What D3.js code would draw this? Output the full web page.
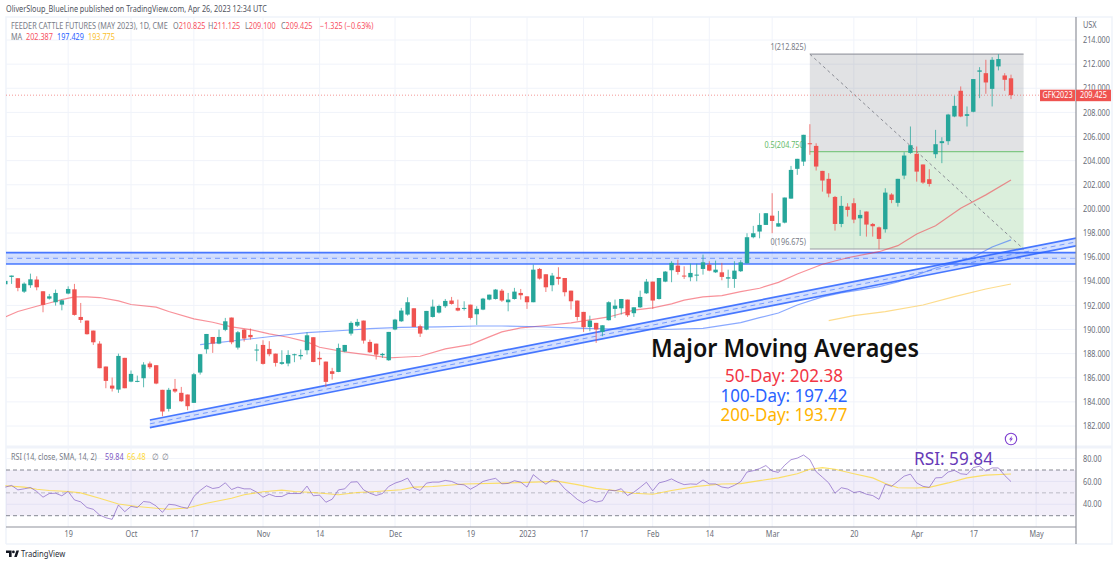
<!DOCTYPE html>
<html>
<head>
<meta charset="utf-8">
<script src="https://cdn.jsdelivr.net/npm/d3@7"></script>
<style>
  html, body { margin: 0; padding: 0; background: #fff; }
  text { font-family: "Noto Sans", sans-serif; }
</style>
</head>
<body>
<svg id="chart" width="1120" height="566"></svg>
<script>
// candles, one per trading day, Sep 2 2022 -> Apr 25 2023
const opens = [193.75,194.36,194.25,193.14,193.67,194.14,193.17,192.56,192.26,192.06,192.98,193.33,191.04,190.74,189.91,188.83,186.93,185.35,185.02,187.65,185.68,185.68,185.96,187.18,187.04,185.0,183.42,185.08,184.75,184.61,183.92,186.43,188.36,189.38,188.83,189.97,190.99,188.5,189.99,189.55,188.28,188.72,188.39,188.0,187.15,187.18,187.87,187.78,188.28,189.36,187.65,187.34,186.54,186.48,188.17,189.66,190.32,190.74,188.97,188.83,187.87,187.45,190.0,190.68,191.24,191.76,190.27,189.99,191.04,191.4,191.93,192.4,191.79,191.71,192.06,191.26,191.65,192.48,192.53,193.22,192.26,192.53,193.03,192.75,192.26,195.02,194.58,193.67,194.36,194.27,193.22,192.4,191.46,190.21,190.55,189.8,190.77,191.71,191.76,192.48,191.35,191.84,193.0,193.97,192.53,193.97,194.91,195.3,194.47,194.33,194.47,195.02,195.38,194.74,194.74,194.22,194.19,194.83,195.49,197.65,198.12,198.67,199.44,198.53,198.86,200.85,203.32,203.92,205.44,205.22,203.15,202.49,200.99,198.75,200.19,200.47,199.22,199.78,198.75,198.47,198.31,201.19,200.5,202.76,204.64,204.56,203.68,202.46,204.53,205.45,205.61,207.66,209.79,207.71,208.05,211.37,211.25,209.95,211.81,211.06,210.825];
const highs = [194.03,194.47,194.25,193.91,194.63,194.41,193.17,192.95,193.31,192.48,193.58,193.78,192.2,190.74,189.91,189.03,186.93,186.02,188.0,187.65,186.6,186.18,187.29,187.34,187.04,185.0,185.16,185.9,185.24,184.61,186.4,187.95,189.63,189.38,189.99,190.96,190.99,189.88,190.05,190.08,188.78,189.11,189.03,188.0,188.28,188.28,188.0,188.34,189.77,189.36,188.17,187.34,186.82,188.83,188.72,190.68,190.88,190.74,189.16,188.83,188.06,189.8,190.88,191.79,192.67,191.76,190.41,191.54,192.48,192.06,192.53,192.7,192.48,192.34,192.06,191.93,192.62,192.89,193.36,193.36,193.03,193.45,193.36,192.75,195.38,195.1,194.58,194.69,195.16,194.27,193.22,192.4,191.46,191.15,190.55,190.35,192.34,192.48,192.53,192.48,191.84,193.22,194.19,193.97,194.27,194.85,195.66,195.79,195.24,195.46,195.46,196.21,195.66,195.71,195.52,194.96,195.66,195.74,197.98,198.59,199.64,199.64,201.3,199.83,200.94,203.56,204.15,206.14,207.02,205.44,203.15,202.96,201.07,201.07,200.47,200.88,199.91,199.78,198.83,198.53,201.71,201.3,202.49,204.7,206.83,205.17,203.68,203.29,206.55,205.94,207.88,209.37,210.15,208.49,210.76,211.75,212.36,212.58,212.825,211.25,211.125];
const lows = [193.75,193.78,193.17,193.03,193.45,193.25,191.43,192.48,191.98,191.59,192.92,191.15,190.55,189.58,188.72,186.79,185.13,184.86,184.75,185.13,185.63,185.63,185.21,186.73,185.46,182.81,183.2,184.75,184.0,183.31,183.92,186.26,188.0,188.06,188.78,189.86,188.78,188.34,189.0,189.16,187.37,187.09,187.78,186.93,187.07,186.95,187.29,187.51,187.92,187.29,187.04,185.24,185.85,186.46,188.12,189.5,190.21,188.83,188.06,187.51,187.65,187.4,189.94,190.63,191.15,190.21,189.38,189.94,190.99,191.32,191.79,192.06,191.51,191.57,190.82,190.38,191.6,192.42,192.48,192.29,191.51,192.48,192.48,191.71,192.26,194.14,193.11,193.17,193.72,192.75,191.65,190.74,189.8,189.86,188.89,189.44,190.74,190.96,191.24,191.04,191.04,191.79,192.95,191.71,192.48,193.92,193.92,194.55,194.19,194.0,194.0,194.55,194.83,194.69,194.08,193.45,193.45,194.77,195.49,197.56,197.56,198.67,197.98,198.53,198.8,200.85,202.82,203.56,204.48,203.18,201.43,200.96,198.2,198.48,199.36,198.81,197.76,197.7,197.7,196.65,198.03,200.47,200.19,202.46,204.56,202.26,202.07,201.85,204.2,203.79,205.31,207.6,207.6,206.83,208.0,209.18,209.54,208.49,211.48,209.79,209.1];
const closes = [194.03,194.47,193.45,193.8,194.16,193.5,192.04,192.75,193.03,192.42,193.36,191.21,190.79,189.61,188.94,186.79,185.74,185.1,187.81,185.13,186.32,185.74,187.09,186.87,185.52,183.2,185.0,184.86,184.05,183.64,186.29,187.95,189.63,188.83,189.38,190.68,188.94,189.77,189.25,189.36,188.34,187.15,187.95,187.23,187.29,187.89,187.95,187.89,189.52,187.31,187.53,185.66,186.32,188.47,188.72,190.55,190.63,189.08,188.11,187.92,187.98,189.8,190.82,191.57,192.26,190.21,189.66,191.54,191.9,191.95,192.37,192.12,191.57,191.79,190.96,191.71,192.56,192.89,193.31,192.4,192.48,193.14,192.84,192.26,194.96,194.22,193.5,194.47,194.19,193.09,192.34,191.04,190.19,190.74,190.0,190.35,192.26,191.98,192.53,191.18,191.84,192.7,193.97,192.4,194.27,194.8,195.52,194.77,194.41,194.69,194.55,195.57,194.88,194.96,194.36,194.33,194.88,195.57,197.65,197.98,198.67,199.64,199.0,198.81,200.94,203.23,204.15,206.14,205.39,203.51,202.35,201.27,198.75,200.25,199.91,199.11,199.5,198.7,198.56,197.51,201.35,200.74,202.49,204.42,205.28,203.09,202.18,202.07,205.36,205.61,207.82,208.54,207.66,207.85,210.76,211.48,210.48,212.36,212.42,210.7,209.425];

// moving averages as [day index, price]
const ma50 = [[0,191.04],[2,191.49],[5,191.93],[7,192.2],[9,192.48],[11,192.7],[13,192.7],[15,192.65],[18,192.37],[20,192.07],[24,191.85],[26,191.49],[30,190.88],[33,190.6],[36,190.22],[39,189.99],[42,189.64],[45,189.36],[48,188.97],[50,188.53],[54,188.14],[58,187.87],[61,187.65],[63,187.7],[66,187.78],[70,188.39],[74,188.75],[77,189.39],[79,189.8],[82,190.13],[86,190.33],[90,190.55],[94,190.88],[96,191.04],[100,191.6],[103,191.79],[106,192.12],[108,192.43],[111,192.7],[114,192.81],[117,193.14],[120,193.42],[123,193.91],[126,194.6],[130,195.41],[134,195.95],[139,196.45],[142,196.95],[145,197.92],[148,198.6],[152,200.05],[156,201.16],[160,202.387]];
const ma100 = [[31,188.74],[43,189.46],[48,189.74],[55,189.96],[58,190.07],[63,190.18],[69,190.21],[75,190.29],[79,190.29],[85,190.23],[92,190.1],[100,190.02],[106,190.02],[111,190.1],[117,190.57],[120,190.98],[123,191.37],[126,192.03],[130,192.7],[133,193.03],[136,193.28],[139,193.55],[142,193.94],[145,194.52],[148,195.1],[151,195.52],[154,196.01],[157,196.84],[160,197.429]];
const ma200 = [[131,190.73],[135,191.15],[140,191.48],[146,192.03],[151,192.72],[156,193.36],[160,193.775]];

// RSI, one value per day
const rsiValues = [55,56.5,52.6,53.5,54.7,51.2,46.2,49.4,49.7,47.4,51.2,43.8,42.1,37.1,35.6,30.6,28.2,26.8,39.4,33.5,38.2,37.1,42.4,41.8,38.5,32.9,40,39.4,37.6,36.5,46.8,52.1,56.2,53.8,54.7,58.8,52.9,55,53.5,53.5,50.6,46.2,48.8,46.8,46.8,49.4,49.4,49.4,55.9,47.4,48,41.8,44.4,52.6,53.5,59.4,59.7,52.6,49.7,47.7,49.4,55.6,58.5,60.3,62.9,54.1,52.1,58.5,59.4,59.4,60.9,60,57.6,57,53.2,56.2,60,61.5,62.7,57.9,58.2,60.6,59.4,55,65.9,61.5,57.6,61.5,60,53.6,49.1,44.3,41,44,41.9,43.1,52.4,51.8,53.6,47.6,50.6,54.8,59.3,51.8,58.7,60.1,62.2,59.3,57.2,57.8,57.5,61.3,57.8,57.8,55.1,54.2,56.6,59.8,68.2,69.4,71.2,73.9,69.1,67.9,74.2,79,80.4,83.1,79,68.5,63.7,58.7,49.7,54.5,53.3,50.3,51.2,48.8,47.6,44.3,57.5,55.7,60.1,64.6,66.4,58.7,55.7,54.8,63.1,63.4,68.2,69.7,66.7,66.1,72.1,73.3,69.1,71.8,71.8,65.2,59.84];
const rsiSma = [[0,56.2],[3,55],[5,53.2],[7,52.1],[10,51.2],[12,50],[15,45.3],[18,40.3],[21,38],[24,36.5],[26,35.6],[29,36.8],[32,40.9],[36,45.3],[38,48.3],[41,50.9],[44,52.4],[46,51.2],[49,50.3],[53,48.3],[56,50.3],[59,51.2],[63,52.7],[65,55],[68,55.6],[73,57.7],[79,58.5],[84,59.4],[88,60],[91,57.2],[94,53.9],[97,52.1],[100,49.7],[103,48.8],[106,52.1],[110,55.7],[114,57.8],[117,58.1],[120,60.7],[123,63.1],[126,66.7],[128,70.6],[130,72.1],[132,70.6],[135,66.7],[138,63.1],[140,58.1],[142,54.5],[145,54.2],[147,54.8],[150,58.7],[153,63.1],[156,65.5],[160,66.48]];

// drawings
const fibStart = 128, fibEnd = 162;
const fibTop = 212.825, fibMid = 204.75, fibBottom = 196.675;
const channelFlat = [196.37, 195.43];
const channelRisingUpper = [[23,182.5],[170.5,197.6]];
const channelRisingLower = [[23,181.86],[170.5,196.95]];
const lastPrice = 209.425;

// axes
const priceTicks = [182,184,186,188,190,192,194,196,198,200,202,204,206,208,210,212,214];
const rsiTicks = [40,60,80];
const rsiBands = [70,50,30];
const dateTickDays = [10,20,30,41,50,62,74,83,92,103,112,122,135,145,154,164];
const dateTickLabels = ['19','Oct','17','Nov','14','Dec','19','2023','17','Feb','14','Mar','20','Apr','17','May'];

const upColor = '#26a69a', downColor = '#ef5350';
const gridColor = '#f0f3fa', axisColor = '#8f929b', textColor = '#6a6d78';
const smallFont = 8.5;

const svg = d3.select('#chart');
const plotL = 6, plotR = 1076, plotT = 17, paneB = 447, timeY = 527, frameR = 1112, frameB = 544;

const x = d3.scaleLinear().domain([0, 160]).range([5.3, 1011]);
const y = d3.scaleLinear().domain([182, 214]).range([426, 40]);
const yRsi = d3.scaleLinear().domain([30, 70]).range([515.7, 470]);

// the small chart text is set in a narrower face than anything installed, so squeeze it
function narrow(sel) {
  sel.each(function () {
    const ax = +this.getAttribute('x') || 0;
    this.setAttribute('transform', `translate(${ax},0) scale(0.855,1) translate(${-ax},0)`);
  });
}

svg.append('defs').append('clipPath').attr('id', 'price-clip')
  .append('rect').attr('x', plotL).attr('y', plotT).attr('width', plotR - plotL).attr('height', paneB - plotT);

// frame and grid
const grid = svg.append('g').attr('stroke', gridColor);
grid.selectAll('.v').data(dateTickDays).join('line')
  .attr('x1', d => x(d)).attr('x2', d => x(d)).attr('y1', plotT).attr('y2', timeY);
grid.selectAll('.h').data(priceTicks).join('line')
  .attr('x1', plotL).attr('x2', plotR).attr('y1', d => y(d)).attr('y2', d => y(d));
grid.selectAll('.r').data(rsiTicks).join('line')
  .attr('x1', plotL).attr('x2', plotR).attr('y1', d => yRsi(d)).attr('y2', d => yRsi(d));
svg.append('path').attr('fill', 'none').attr('stroke', gridColor).attr('stroke-width', 1.5)
  .attr('d', `M${plotL},${frameB}V${plotT}H${frameR}V${frameB}H${plotL}`);
svg.append('line').attr('x1', plotL).attr('x2', frameR).attr('y1', paneB).attr('y2', paneB)
  .attr('stroke', gridColor).attr('stroke-width', 3);

const price = svg.append('g').attr('clip-path', 'url(#price-clip)');

// fib retracement box
price.append('rect').attr('x', x(fibStart)).attr('width', x(fibEnd) - x(fibStart))
  .attr('y', y(fibTop)).attr('height', y(fibMid) - y(fibTop)).attr('fill', '#787b86').attr('fill-opacity', 0.22);
price.append('rect').attr('x', x(fibStart)).attr('width', x(fibEnd) - x(fibStart))
  .attr('y', y(fibMid)).attr('height', y(fibBottom) - y(fibMid)).attr('fill', '#4caf50').attr('fill-opacity', 0.2);
[[fibTop, '#9a9ca4'], [fibMid, '#81c784'], [fibBottom, '#9a9ca4']].forEach(([p, c]) => {
  price.append('line').attr('x1', x(fibStart)).attr('x2', x(fibEnd)).attr('y1', y(p)).attr('y2', y(p))
    .attr('stroke', c).attr('stroke-width', 1.2);
});
price.append('line').attr('x1', x(fibStart)).attr('y1', y(fibTop)).attr('x2', x(fibEnd)).attr('y2', y(fibBottom))
  .attr('stroke', '#8a8c94').attr('stroke-dasharray', '3 3');
[['1(212.825)', fibTop, '#787b86'], ['0.5(204.750)', fibMid, '#66bb6a'], ['0(196.675)', fibBottom, '#787b86']].forEach(([t, p, c]) => {
  price.append('text').attr('x', x(fibStart) - 4).attr('y', y(p) - 4).attr('text-anchor', 'end')
    .attr('font-size', smallFont).attr('fill', c).text(t).call(narrow);
});

// flat and rising channels
const line = d3.line().x(d => x(d[0])).y(d => y(d[1]));
const flatUpper = [[-1, channelFlat[0]], [171, channelFlat[0]]];
const flatLower = [[-1, channelFlat[1]], [171, channelFlat[1]]];
function drawChannel(upper, lower) {
  const g = price.append('g');
  g.append('path').attr('d', line(upper.concat(lower.slice().reverse())) + 'Z')
    .attr('fill', '#2962ff').attr('fill-opacity', 0.2);
  const mid = upper.map((d, i) => [d[0], (d[1] + lower[i][1]) / 2]);
  g.append('path').attr('d', line(mid)).attr('fill', 'none').attr('stroke', '#2962ff')
    .attr('stroke-opacity', 0.55).attr('stroke-dasharray', '5 4');
  [upper, lower].forEach(l => g.append('path').attr('d', line(l)).attr('fill', 'none')
    .attr('stroke', '#2962ff').attr('stroke-opacity', 0.85).attr('stroke-width', 1.7));
}
drawChannel(flatUpper, flatLower);
drawChannel(channelRisingUpper, channelRisingLower);

// moving averages
[[ma50, '#f23645'], [ma100, '#2962ff'], [ma200, '#fbc02d']].forEach(([pts, c]) => {
  price.append('path').attr('d', line(pts)).attr('fill', 'none').attr('stroke', c)
    .attr('stroke-opacity', 0.55).attr('stroke-width', 1.2);
});

// last price line
price.append('line').attr('x1', plotL).attr('x2', plotR).attr('y1', y(lastPrice)).attr('y2', y(lastPrice))
  .attr('stroke', '#ef5350').attr('stroke-opacity', 0.6).attr('stroke-dasharray', '1 2');

// candles
const candles = opens.map((o, i) => ({ i, o, h: highs[i], l: lows[i], c: closes[i] }));
const bodyW = 4.4;
const candle = price.append('g').selectAll('g').data(candles).join('g')
  .attr('fill', d => d.c >= d.o ? upColor : downColor)
  .attr('stroke', d => d.c >= d.o ? upColor : downColor);
candle.append('line').attr('x1', d => x(d.i)).attr('x2', d => x(d.i))
  .attr('y1', d => y(d.h)).attr('y2', d => y(d.l)).attr('stroke-opacity', 0.75);
candle.append('rect').attr('x', d => x(d.i) - bodyW / 2).attr('width', bodyW)
  .attr('y', d => y(Math.max(d.o, d.c)))
  .attr('height', d => Math.max(1, Math.abs(y(d.o) - y(d.c))))
  .attr('stroke', 'none');

// annotations
const note = svg.append('g').attr('text-anchor', 'middle');
note.append('text').attr('x', 785).attr('y', 357).attr('font-size', 26).attr('font-weight', 600)
  .attr('fill', '#111').attr('textLength', 268).attr('lengthAdjust', 'spacingAndGlyphs').text('Major Moving Averages');
[['50-Day: 202.38', 382, '#f23645', 118], ['100-Day: 197.42', 402, '#2962ff', 127], ['200-Day: 193.77', 421, '#ffb300', 127]].forEach(([t, py, c, w]) => {
  note.append('text').attr('x', 784).attr('y', py).attr('font-size', 18).attr('fill', c)
    .attr('textLength', w).attr('lengthAdjust', 'spacingAndGlyphs').text(t);
});

// RSI pane
svg.append('rect').attr('x', plotL).attr('width', plotR - plotL).attr('y', yRsi(70)).attr('height', yRsi(30) - yRsi(70))
  .attr('fill', '#7e57c2').attr('fill-opacity', 0.1);
svg.append('g').selectAll('line').data(rsiBands).join('line')
  .attr('x1', plotL).attr('x2', plotR).attr('y1', d => yRsi(d)).attr('y2', d => yRsi(d))
  .attr('stroke', '#787b86').attr('stroke-dasharray', '4 3').attr('stroke-opacity', d => d === 50 ? 0.45 : 0.9);
svg.append('path').attr('d', d3.line().x(d => x(d[0])).y(d => yRsi(d[1]))(rsiSma))
  .attr('fill', 'none').attr('stroke', '#fdd835').attr('stroke-opacity', 0.75).attr('stroke-width', 1.1);
svg.append('path').attr('d', d3.line().x((d, i) => x(i)).y(d => yRsi(d))(rsiValues))
  .attr('fill', 'none').attr('stroke', '#7e57c2').attr('stroke-opacity', 0.65).attr('stroke-width', 1);
svg.append('text').attr('x', 914).attr('y', 465).attr('font-size', 18).attr('fill', '#673ab7')
  .attr('textLength', 79).attr('lengthAdjust', 'spacingAndGlyphs').text('RSI: 59.84');

// bolt marker above the last bar
const bolt = svg.append('g').attr('transform', `translate(${x(160)},439)`);
bolt.append('circle').attr('r', 5.7).attr('fill', 'none').attr('stroke', '#7e3fd0').attr('stroke-width', 1.1);
bolt.append('path').attr('d', 'M1.2,-3.2L-2,0.6H-0.2L-1.2,3.2L2,-0.6H0.2Z').attr('fill', '#7e3fd0');

// axis lines
svg.append('line').attr('x1', plotL).attr('x2', plotR).attr('y1', timeY).attr('y2', timeY)
  .attr('stroke', axisColor).attr('stroke-width', 1.2);
svg.append('line').attr('x1', plotR).attr('x2', plotR).attr('y1', plotT).attr('y2', frameB)
  .attr('stroke', axisColor).attr('stroke-width', 1.2);

// axes
function styleAxis(g) {
  g.select('.domain').remove();
  g.selectAll('.tick line').remove();
  g.selectAll('text').attr('fill', textColor).attr('font-size', smallFont)
    .attr('font-family', '"Noto Sans", sans-serif').call(narrow);
}
svg.append('g').attr('transform', `translate(${plotR},0)`)
  .call(d3.axisRight(y).tickValues(priceTicks).tickFormat(d3.format('.3f')).tickSize(0).tickPadding(7)).call(styleAxis);
svg.append('g').attr('transform', `translate(${plotR},0)`)
  .call(d3.axisRight(yRsi).tickValues(rsiTicks).tickFormat(d3.format('.2f')).tickSize(0).tickPadding(7)).call(styleAxis);
svg.append('g').attr('transform', `translate(0,${timeY})`)
  .call(d3.axisBottom(x).tickValues(dateTickDays).tickFormat((d, i) => dateTickLabels[i]).tickSize(0).tickPadding(4)).call(styleAxis);
svg.append('text').attr('x', 1083).attr('y', 28).attr('font-size', smallFont).attr('fill', textColor).text('USX').call(narrow);

// last price labels
[[1040, 35, 'GFK2023'], [1076, 35, '209.425']].forEach(([lx, w, t]) => {
  svg.append('rect').attr('x', lx).attr('y', y(lastPrice) - 5.5).attr('width', w).attr('height', 11.5).attr('fill', '#ef5350');
  svg.append('text').attr('x', lx + w / 2).attr('y', y(lastPrice) + 3.2).attr('text-anchor', 'middle')
    .attr('font-size', smallFont).attr('fill', '#fff').text(t).call(narrow);
});

// header and legends
svg.append('text').attr('x', 6).attr('y', 12).attr('font-size', smallFont).attr('fill', '#50535e')
  .text('OliverSloup_BlueLine published on TradingView.com, Apr 26, 2023 12:34 UTC').call(narrow);
const red = '#f7525f', gray = '#787b86';
// one line of a legend: the text parts sit at their own x, split colours share one text element
function legend(items, ly) {
  items.forEach(([lx, parts]) => {
    const t = svg.append('text').attr('x', lx).attr('y', ly).attr('font-size', smallFont);
    parts.forEach(([s, c]) => t.append('tspan').attr('fill', c).text(s));
    t.call(narrow);
  });
}
legend([[11, [['FEEDER CATTLE FUTURES (MAY 2023), 1D, CME', gray]]],
  [173, [['O', gray], ['210.825', red]]],
  [208, [['H', gray], ['211.125', red]]],
  [245, [['L', gray], ['209.100', red]]],
  [281, [['C', gray], ['209.425', red]]],
  [320, [['−1.325 (−0.63%)', red]]]], 29);
legend([[11, [['MA', gray]]], [26, [['202.387', red]]], [57, [['197.429', '#2962ff']]], [88, [['193.775', '#fbc02d']]]], 40);
legend([[11, [['RSI (14, close, SMA, 14, 2)', gray]]], [105, [['59.84', '#7e57c2']]], [127, [['66.48', '#fdd835']]],
  [152, [['∅', gray]]], [162, [['∅', gray]]]], 460);

// logo
const logo = svg.append('g').attr('transform', 'translate(6,550.5)').attr('fill', '#131722');
logo.append('path').attr('d', 'M0,0H5.6V6.5H3V2.6H0Z');
logo.append('circle').attr('cx', 7.4).attr('cy', 1.4).attr('r', 1.4);
logo.append('path').attr('d', 'M8.2,6.5L10.4,0H13L10.8,6.5Z');
svg.append('text').attr('x', 21).attr('y', 557.5).attr('font-size', smallFont + 0.5).attr('fill', '#2a2e39').text('TradingView').call(narrow);
</script>
</body>
</html>
